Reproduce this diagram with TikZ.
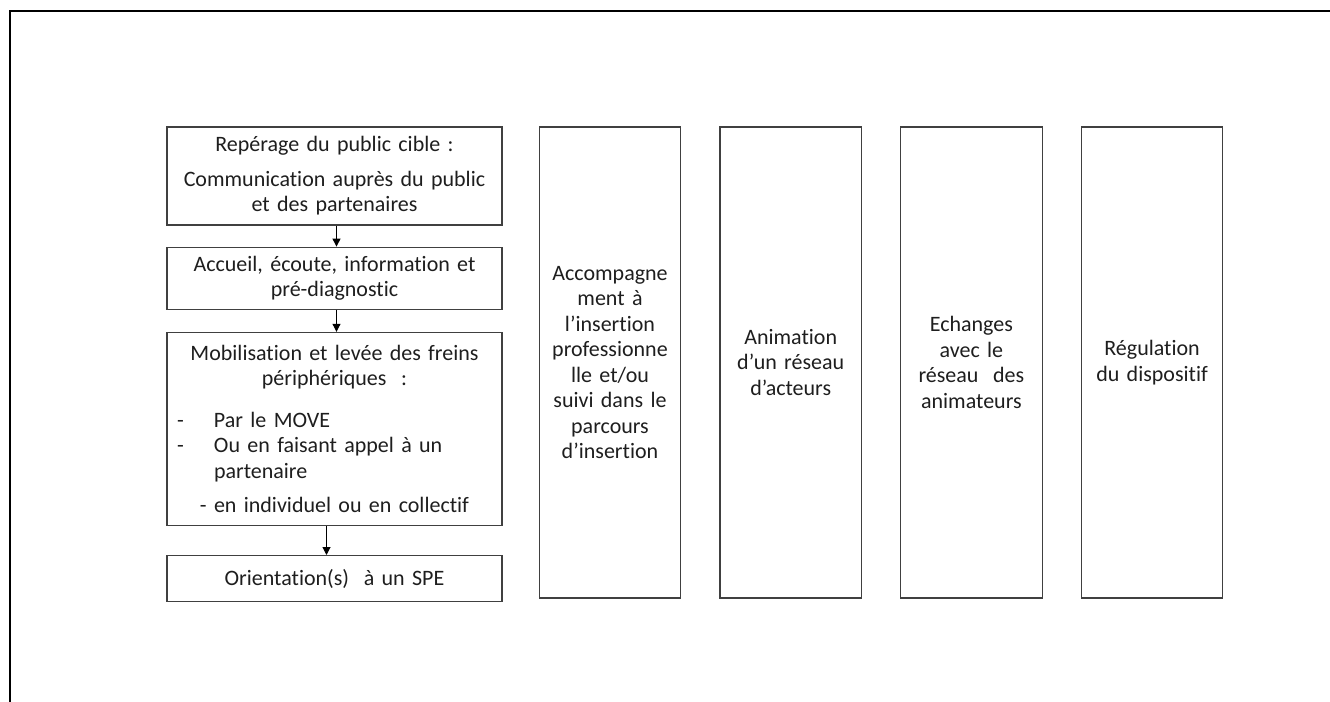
\documentclass[tikz,border=0pt]{standalone}
\usepackage{fontspec}
\setmainfont{Carlito}[Ligatures=NoCommon]
\usepackage{tikz}
\usetikzlibrary{positioning,arrows.meta}
\definecolor{boxgray}{RGB}{64,64,64}
\definecolor{textgray}{RGB}{30,30,30}

\begin{document}
\begin{tikzpicture}[
	x=0.5pt, y=-0.5pt,
	every node/.style={font=\fontsize{11pt}{12.75pt}\selectfont, text=textgray},
	% boîtes du parcours (à gauche)
	etape/.style={
		draw=boxgray, line width=0.6pt, rectangle,
		minimum width=167.5pt, text width=157.5pt,
		inner xsep=5pt, inner ysep=2pt, align=center
	},
	% grandes colonnes
	colonne/.style={
		draw=boxgray, line width=0.6pt, rectangle,
		minimum width=70.75pt, minimum height=235.5pt,
		text width=65pt, inner xsep=2.875pt, align=center
	},
	% flèches entre étapes
	fleche/.style={-{Triangle[length=4pt,width=4pt]}, black, line width=0.5pt}
	]
	\useasboundingbox (0,0) rectangle (1330,702);
	
	% cadre
	\draw[line width=1pt, black] (10,702) -- (10,11) -- (1330,11);
	
	% parcours
	\node[etape, minimum height=49pt] (repere) at (334.5,176)
	{Repérage du public cible :\\[4.5pt] Communication auprès du public\\ et des partenaires};
	\node[etape, minimum height=31pt, below=10.5pt of repere] (accueil)
	{Accueil, écoute, information et\\ pré-diagnostic};
	\node[etape, minimum height=96.5pt, below=11pt of accueil] (mobil)
	{Mobilisation et levée des freins\\ périphériques~ :\par
		\vspace{8pt}
		{\raggedright
			\makebox[18.5pt][l]{-}Par le MOVE\par
			\makebox[18.5pt][l]{-}Ou en faisant appel à un\par
			\hspace*{18.5pt}partenaire\par}
		\vspace{4.5pt}
		- en individuel ou en collectif};
	\node[etape, minimum height=23pt, below=14.5pt of mobil] (orient)
	{Orientation(s)~ à un SPE};
	
	\draw[fleche] ([xshift=1pt]repere.south) -- ([xshift=1pt]accueil.north);
	\draw[fleche] ([xshift=1pt]accueil.south) -- ([xshift=1pt]mobil.north);
	\draw[fleche] ([xshift=-4pt]mobil.south) -- ([xshift=-4pt]orient.north);
	
	% colonnes
	\node[colonne] (accomp) at (610,362.5)
	{Accompagne\\ ment à\\ l’insertion\\ professionne\\ lle et/ou\\ suivi dans le\\ parcours\\ d’insertion};
	\node[colonne, right=19pt of accomp] (anim)
	{Animation\\ d’un réseau\\ d’acteurs};
	\node[colonne, right=19pt of anim] (echanges)
	{Echanges\\ avec le\\ réseau~ des\\ animateurs};
	\node[colonne, right=19pt of echanges] (regul)
	{Régulation\\ du dispositif};
	
\end{tikzpicture}
\end{document}
